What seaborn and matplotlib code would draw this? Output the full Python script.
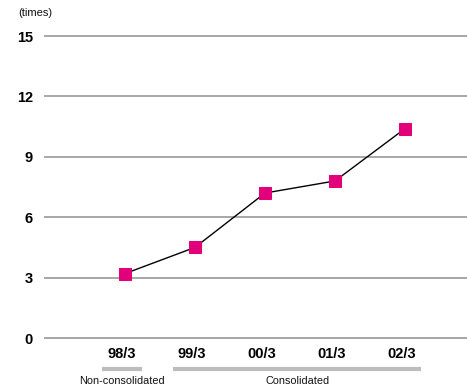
import matplotlib
matplotlib.use("Agg")
import matplotlib.pyplot as plt
import matplotlib.transforms as mtransforms
import seaborn as sns
import pandas as pd

periods = ["98/3", "99/3", "00/3", "01/3", "02/3"]
values = [3.2, 4.5, 7.2, 7.8, 10.4]
yticks = [0, 3, 6, 9, 12, 15]
unit_label = "(times)"
group_labels = ["Non-consolidated", "Consolidated"]

sns.set_style("white")
plt.rcParams['font.family'] = ['Liberation Sans', 'DejaVu Sans']
plt.rcParams['text.color'] = 'black'
plt.rcParams['xtick.color'] = 'black'
plt.rcParams['ytick.color'] = 'black'

W, H = 467, 390
fig = plt.figure(figsize=(W / 100, H / 100), dpi=100)
px_left, px_right = 44, 467
y0_px, y15_px = 338, 36
ppu = (y0_px - y15_px) / 15.0
ymin, ymax = -0.25, 15.25
bot_px = y0_px + (0 - ymin) * ppu
top_px = y15_px - (ymax - 15) * ppu
ax = fig.add_axes([px_left / W, 1 - bot_px / H, (px_right - px_left) / W, (bot_px - top_px) / H])

df = pd.DataFrame({"idx": range(len(periods)), "val": values})
sns.lineplot(data=df, x="idx", y="val", ax=ax, color="black", linewidth=1.0,
             marker="s", markersize=8.6, markerfacecolor="#E2007A",
             markeredgecolor="#E2007A", zorder=5)

ax.set_xlim((px_left - 125) / 70, (px_right - 125) / 70)
ax.set_ylim(ymin, ymax)
ax.set_yticks(yticks)
ax.set_yticklabels([str(t) for t in yticks], fontsize=10.5, fontweight="bold", color="black")
ax.set_xticks(range(len(periods)))
ax.set_xticklabels(periods, fontsize=10.5, fontweight="bold", color="black")
ax.tick_params(axis="y", length=0, pad=8)
ax.tick_params(axis="x", length=0, pad=3)
shift = mtransforms.ScaledTranslation(-3 / 100, 0, fig.dpi_scale_trans)
for lab in ax.get_xticklabels():
    lab.set_transform(lab.get_transform() + shift)
ax.set_xlabel("")
ax.set_ylabel("")
for s in ax.spines.values():
    s.set_visible(False)
ax.yaxis.grid(True, color="#8f8f8f", linewidth=1.1)
ax.xaxis.grid(False)
ax.set_axisbelow(True)

trans = mtransforms.blended_transform_factory(ax.transData, fig.transFigure)
bar_y = 1 - 368.7 / H
lab_y = 1 - 381.5 / H
ax.plot([-0.33, 0.24], [bar_y, bar_y], transform=trans, color="#bdbdbd",
        linewidth=3.0, clip_on=False, solid_capstyle="butt")
ax.plot([0.686, 4.23], [bar_y, bar_y], transform=trans, color="#bdbdbd",
        linewidth=3.0, clip_on=False, solid_capstyle="butt")
ax.text(-0.04, lab_y, group_labels[0], transform=trans, ha="center", va="center",
        fontsize=7.8, color="#111111")
ax.text(2.46, lab_y, group_labels[1], transform=trans, ha="center", va="center",
        fontsize=7.8, color="#111111")

fig.text(18 / W, 1 - 13 / H, unit_label, ha="left", va="center", fontsize=8, color="#111111")

fig.savefig("out.png", dpi=100)
